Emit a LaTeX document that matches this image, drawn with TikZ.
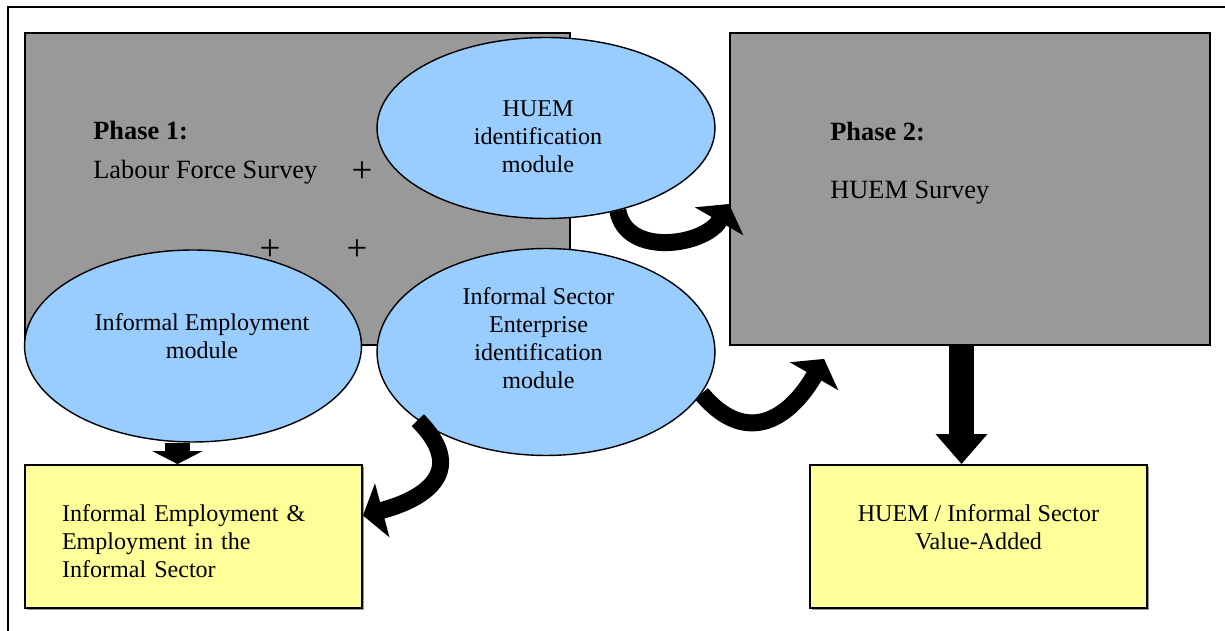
\documentclass[tikz,border=0pt]{standalone}
\usepackage{fontspec}
\setmainfont{Liberation Serif}
\usetikzlibrary{shapes.geometric,arrows.meta,shadows}

\definecolor{surveygray}{HTML}{999999}
\definecolor{moduleblue}{HTML}{99CCFF}
\definecolor{outputyellow}{HTML}{FFFF99}

\tikzset{
    phasebox/.style={draw, line width=1.1pt, fill=surveygray, minimum height=6.24cm, inner sep=0pt},
    phasetext/.style={anchor=west, inner xsep=0pt, font=\fontsize{15pt}{18pt}\selectfont},
    plussign/.style={inner sep=0pt, font=\fontsize{21pt}{24pt}\selectfont},
    module/.style={ellipse, draw, line width=0.8pt, fill=moduleblue, inner sep=0pt, minimum width=6.76cm},
    modtext/.style={align=center},
    outbox/.style={draw, line width=1.1pt, fill=outputyellow, minimum width=6.74cm, minimum height=2.86cm,
        inner sep=0pt, drop shadow={shadow xshift=0.04cm, shadow yshift=-0.04cm, fill=black!40, opacity=1}},
    blockarrow/.style={line width=0.5cm, -{Triangle[length=#1, width=1cm]}},
    bendarrow/.style={line width=0.34cm, -{Triangle[length=0.4cm, width=1.1cm]}},
}

\begin{document}
\begin{tikzpicture}[x=0.02cm, y=-0.02cm, font=\fontsize{13.7pt}{15.9pt}\selectfont]
    \useasboundingbox (0,0) rectangle (1225,631);
    \draw[line width=1.1pt] (8,631) |- (1225,7);

    % the two survey phases
    \node[phasebox, minimum width=10.9cm] (phaseone) at (297.5,189) {};
    \node[phasebox, minimum width=9.6cm] (phasetwo) at (970,189) {};
    \node[phasetext] (phaseonetitle) at (93,131) {\textbf{Phase 1:}};
    \node[phasetext] (lfs) at (93,172) {Labour Force Survey};
    \node[phasetext] (phasetwotitle) at (830,132) {\textbf{Phase 2:}};
    \node[phasetext] (huemsurvey) at (830,193) {HUEM Survey};

    % modules
    \node[module, minimum height=3.62cm,
        label={[modtext, xshift=-0.16cm, yshift=-0.18cm]center:HUEM\\identification\\module}] (huem) at (546,128) {};
    \node[module, minimum width=6.74cm, minimum height=3.84cm,
        label={[modtext, xshift=0.18cm, yshift=0.2cm]center:Informal Employment\\module}] (ie) at (193,346) {};
    \node[module, minimum height=4.14cm,
        label={[modtext, xshift=-0.15cm, yshift=0.27cm]center:Informal Sector\\Enterprise\\identification\\module}] (ise) at (546,352) {};
    \node[plussign] (plusa) at (362,172) {+};
    \node[plussign] (plusb) at (270,250) {+};
    \node[plussign] (plusc) at (357,250) {+};

    % outputs
    \node[outbox, label={[align=left, text width=5.26cm, yshift=-0.1cm]center:Informal Employment \&\\Employment in the\\Informal Sector}] (iebox) at (193.5,536.5) {};
    \node[outbox, label={[modtext, yshift=0.18cm]center:HUEM / Informal Sector\\Value-Added}] (valueadded) at (978.5,536.5) {};

    % arrows
    \draw[blockarrow=0.26cm] ([xshift=-0.31cm]ie.south) -- ([xshift=-0.31cm]ie.south |- iebox.north);
    \draw[blockarrow=0.6cm] ([xshift=-0.17cm]phasetwo.south) -- ([xshift=-0.17cm]phasetwo.south |- valueadded.north);
    \draw[bendarrow] (huem.-49) to[out=-80, in=-120, looseness=1.1] ([yshift=-0.3cm]phasetwo.west);
    \draw[bendarrow] (ise.-15) to[out=-50, in=-120, looseness=1.4] ([xshift=1.9cm, yshift=-0.26cm]phasetwo.south west);
    \draw[bendarrow] (ise.-152) to[out=-45, in=15, looseness=1.6] ([yshift=0.42cm]iebox.east);
\end{tikzpicture}
\end{document}
